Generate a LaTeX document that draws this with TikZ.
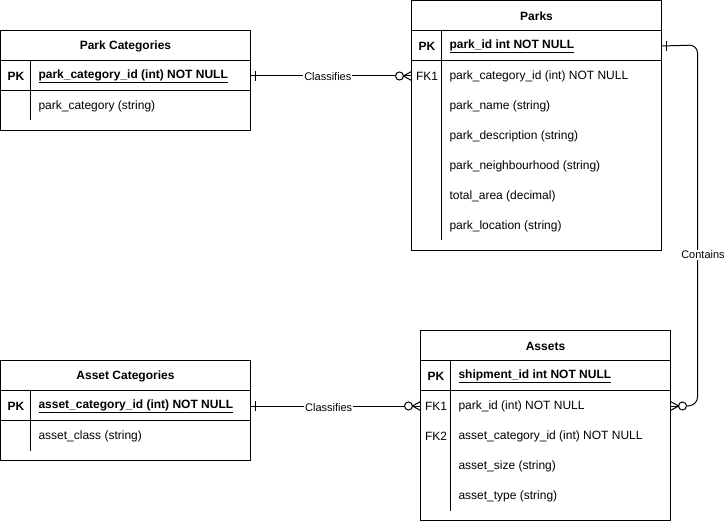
\documentclass[tikz,border=0pt]{standalone}
\usepackage{fontspec}
\setmainfont{Liberation Sans}
\usetikzlibrary{calc}
\begin{document}
\begin{tikzpicture}[x=1pt,y=-1pt, line width=1pt,
 tbl/.style={draw, minimum width=250pt, inner sep=0pt, outer sep=0pt},
 hdr/.style={font=\fontsize{12}{14}\selectfont\bfseries, inner sep=0pt, yshift=-1pt},
 keyc/.style={font=\fontsize{12}{14}\selectfont\bfseries, inner sep=0pt, anchor=center, yshift=-1pt},
 fkc/.style={font=\fontsize{12}{14}\selectfont, inner sep=0pt, anchor=center, yshift=-1pt},
 fld/.style={font=\fontsize{12}{14}\selectfont, inner sep=0pt, anchor=west, yshift=-1pt},
 pkf/.style={font=\fontsize{12}{14}\selectfont\bfseries, inner sep=0pt, anchor=west, yshift=-1pt},
 lbl/.style={font=\fontsize{11}{13}\selectfont, fill=white, inner sep=1pt},
]
\useasboundingbox (0,0) rectangle (725,521);

% ---------- Park Categories ----------
\node[tbl, minimum height=100pt] (pc) at (125.5,80.5) {};
\node[hdr] (pch) at (125.5,45) {Park Categories};
\draw (0.5,60.5) -- (250.5,60.5);
\draw (0.5,90.5) -- (250.5,90.5);
\draw (30.5,60.5) -- (30.5,120.5);
\node[keyc] (pcpkk) at (16,75) {PK};
\node[pkf] (pcpk) at (38,75) {\underline{park\_category\_id (int) NOT NULL}};
\node[fld] (pccat) at (38,105) {park\_category (string)};

% ---------- Parks ----------
\node[tbl, minimum height=250pt] (pk) at (536.5,125.5) {};
\node[hdr] (pkh) at (536.5,15) {Parks};
\draw (411.5,30.5) -- (661.5,30.5);
\draw (411.5,60.5) -- (661.5,60.5);
\draw (441.5,30.5) -- (441.5,240.5);
\node[keyc] (pkpkk) at (427,45) {PK};
\node[pkf] (pkpk) at (449,45) {\underline{park\_id int NOT NULL}};
\node[fkc] (pkfk1k) at (427,75) {FK1};
\node[fld] (pkfk1) at (449,75) {park\_category\_id (int) NOT NULL};
\node[fld] (pkname) at (449,105) {park\_name (string)};
\node[fld] (pkdesc) at (449,135) {park\_description (string)};
\node[fld] (pknb) at (449,165) {park\_neighbourhood (string)};
\node[fld] (pkarea) at (449,195) {total\_area (decimal)};
\node[fld] (pkloc) at (449,225) {park\_location (string)};

% ---------- Asset Categories ----------
\node[tbl, minimum height=100pt] (ac) at (125.5,410.5) {};
\node[hdr] (ach) at (125.5,375) {Asset Categories};
\draw (0.5,390.5) -- (250.5,390.5);
\draw (0.5,420.5) -- (250.5,420.5);
\draw (30.5,390.5) -- (30.5,450.5);
\node[keyc] (acpkk) at (16,405) {PK};
\node[pkf] (acpk) at (38,405) {\underline{asset\_category\_id (int) NOT NULL}};
\node[fld] (accls) at (38,435) {asset\_class (string)};

% ---------- Assets ----------
\node[tbl, minimum height=190pt] (as) at (545.5,425.5) {};
\node[hdr] (ash) at (545.5,345) {Assets};
\draw (420.5,360.5) -- (670.5,360.5);
\draw (420.5,390.5) -- (670.5,390.5);
\draw (450.5,360.5) -- (450.5,510.5);
\node[keyc] (aspkk) at (436,375) {PK};
\node[pkf] (aspk) at (458,375) {\underline{shipment\_id int NOT NULL}};
\node[fkc] (asfk1k) at (436,405) {FK1};
\node[fld] (asfk1) at (458,405) {park\_id (int) NOT NULL};
\node[fkc] (asfk2k) at (436,435) {FK2};
\node[fld] (asfk2) at (458,435) {asset\_category\_id (int) NOT NULL};
\node[fld] (assize) at (458,465) {asset\_size (string)};
\node[fld] (astype) at (458,495) {asset\_type (string)};

% ---------- Connector: Park Categories -> Parks ----------
\coordinate (c1a) at (pc.east |- pcpk);
\coordinate (c1b) at (pk.west |- pkfk1);
\draw (c1a) -- ($(c1b)+(-16,0)$);
\node[lbl] (cl1) at ($(c1a)!0.48!(c1b)+(0,1)$) {Classifies};
\draw ($(c1a)+(5,-5)$) -- ($(c1a)+(5,5)$);
\draw ($(c1b)+(-12,0)$) circle (4);
\draw ($(c1b)+(-8,0)$) -- (c1b);
\draw ($(c1b)+(0,-4.5)$) -- ($(c1b)+(-8,0)$) -- ($(c1b)+(0,4.5)$);

% ---------- Connector: Asset Categories -> Assets ----------
\coordinate (c2a) at (ac.east |- acpk);
\coordinate (c2b) at (as.west |- asfk1);
\draw (c2a) -- ($(c2b)+(-16,0)$);
\node[lbl] (cl2) at ($(c2a)!0.46!(c2b)+(0,2)$) {Classifies};
\draw ($(c2a)+(5,-5)$) -- ($(c2a)+(5,5)$);
\draw ($(c2b)+(-12,0)$) circle (4);
\draw ($(c2b)+(-8,0)$) -- (c2b);
\draw ($(c2b)+(0,-4.5)$) -- ($(c2b)+(-8,0)$) -- ($(c2b)+(0,4.5)$);

% ---------- Connector: Parks -> Assets (Contains) ----------
\coordinate (c3a) at (pk.east |- pkpk);
\coordinate (c3b) at (as.east |- asfk1);
\coordinate (c3t) at (697.5,45);
\draw[rounded corners=8pt] (c3a) -- (c3t) -- (697.5,405) -- ($(c3b)+(16,0)$);
\draw ($(c3a)+(5,-5)$) -- ($(c3a)+(5,5)$);
\draw ($(c3b)+(12,0)$) circle (4);
\draw ($(c3b)+(8,0)$) -- (c3b);
\draw ($(c3b)+(0,-4.5)$) -- ($(c3b)+(8,0)$) -- ($(c3b)+(0,4.5)$);
\node[lbl] (cl3) at (703,255) {Contains};

\end{tikzpicture}
\end{document}
